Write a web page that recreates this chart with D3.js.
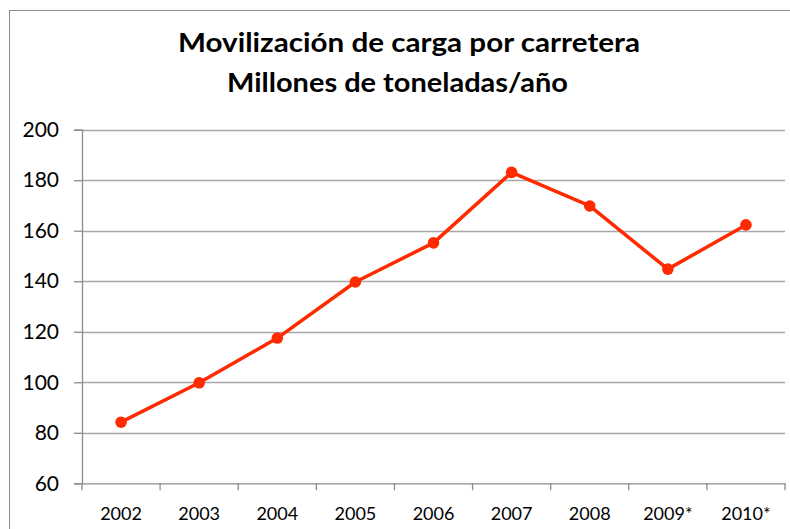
<!DOCTYPE html>
<html>
<head>
<meta charset="utf-8">
<script src="https://cdn.jsdelivr.net/npm/d3@7"></script>
<style>
  html, body { margin: 0; padding: 0; background: #fff; }
  svg { display: block; }
</style>
</head>
<body>
<svg id="chart" width="790" height="529"></svg>
<script>
const categories = ["2002", "2003", "2004", "2005", "2006", "2007", "2008", "2009*", "2010*"];
const values = [84.2, 99.8, 117.5, 139.7, 155.2, 183.1, 169.8, 144.8, 162.3];
const yTicks = [60, 80, 100, 120, 140, 160, 180, 200];
const titleLines = ["Movilización de carga por carretera", "Millones de toneladas/año"];

const svg = d3.select("#chart");
const font = "Lato, 'Open Sans', sans-serif";

// outer chart border (extends beyond the visible area)
svg.append("rect")
  .attr("x", 9.5).attr("y", 10.5)
  .attr("width", 900).attr("height", 700)
  .attr("fill", "none").attr("stroke", "#8c8c8c").attr("stroke-width", 1);

const plot = { left: 82, right: 785, top: 129.7, bottom: 483.3 };

const x = d3.scaleBand().domain(categories).range([plot.left, plot.right]).padding(0);
const y = d3.scaleLinear().domain([60, 200]).range([plot.bottom, plot.top]);

// gridlines
svg.append("g")
  .selectAll("line")
  .data(yTicks.filter(d => d > 60))
  .join("line")
  .attr("x1", plot.left).attr("x2", plot.right)
  .attr("y1", d => Math.round(y(d)) + 0.5).attr("y2", d => Math.round(y(d)) + 0.5)
  .attr("stroke", "#a8a8a8").attr("stroke-width", 1.3);

// y axis
const yAxis = svg.append("g")
  .attr("transform", `translate(${plot.left},0)`)
  .call(d3.axisLeft(y).tickValues(yTicks).tickSize(8).tickPadding(15).tickFormat(d3.format("d")));
yAxis.select(".domain").attr("stroke", "#8c8c8c").attr("stroke-width", 1.3);
yAxis.selectAll(".tick line").attr("stroke", "#8c8c8c").attr("stroke-width", 1.3);
yAxis.selectAll(".tick text")
  .attr("font-family", font).attr("font-size", 21).attr("fill", "#000");

// x axis: ticks at category boundaries
const xAxis = svg.append("g")
  .attr("transform", `translate(0,${plot.bottom})`)
  .call(d3.axisBottom(x).tickSize(0).tickPadding(24));
xAxis.select(".domain").attr("stroke", "#8c8c8c").attr("stroke-width", 1.3);
xAxis.selectAll(".tick text")
  .attr("font-family", font).attr("font-size", 18).attr("fill", "#000");
const bounds = categories.map(c => x(c)).concat([x(categories[categories.length - 1]) + x.bandwidth()]);
xAxis.append("g").selectAll("line")
  .data(bounds)
  .join("line")
  .attr("x1", d => d).attr("x2", d => d)
  .attr("y1", 0).attr("y2", 7)
  .attr("stroke", "#8c8c8c").attr("stroke-width", 1.3);

// series line
const line = d3.line()
  .x((d, i) => x(categories[i]) + x.bandwidth() / 2)
  .y(d => y(d));
svg.append("path")
  .datum(values)
  .attr("d", line)
  .attr("fill", "none")
  .attr("stroke", "#ff2a00")
  .attr("stroke-width", 3.5)
  .attr("stroke-linejoin", "round");

svg.append("g")
  .selectAll("circle")
  .data(values)
  .join("circle")
  .attr("cx", (d, i) => x(categories[i]) + x.bandwidth() / 2)
  .attr("cy", d => y(d))
  .attr("r", 5.8)
  .attr("fill", "#ff2a00");

// title
const titlePos = [{ cx: 409, base: 52, w: 462 }, { cx: 397.5, base: 92, w: 341 }];
svg.append("g")
  .selectAll("text")
  .data(titleLines)
  .join("text")
  .attr("x", (d, i) => titlePos[i].cx)
  .attr("y", (d, i) => titlePos[i].base)
  .attr("text-anchor", "middle")
  .attr("font-family", font)
  .attr("font-weight", "bold")
  .attr("font-size", 26)
  .attr("fill", "#000")
  .attr("textLength", (d, i) => titlePos[i].w)
  .attr("lengthAdjust", "spacingAndGlyphs")
  .text(d => d);
</script>
</body>
</html>
